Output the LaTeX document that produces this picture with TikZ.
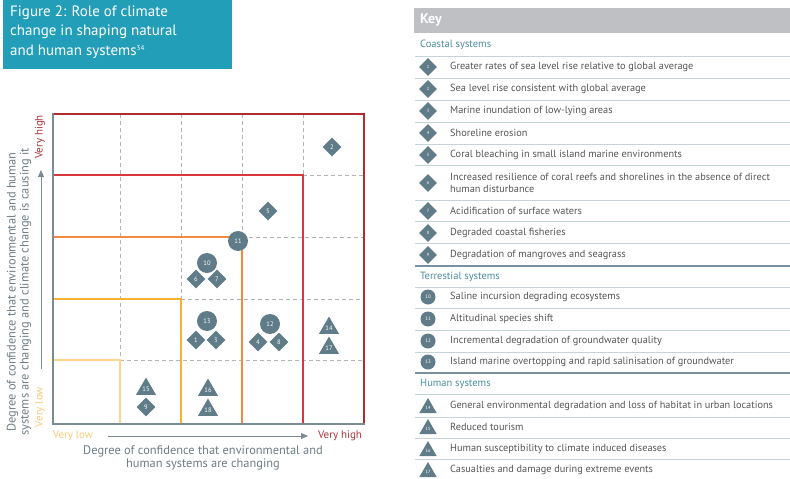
\documentclass[tikz,border=0pt]{standalone}
\usepackage{fontspec}
\setmainfont{PT Sans}
\usetikzlibrary{shapes.geometric,arrows.meta}

\definecolor{titleteal}{HTML}{229EB9}
\definecolor{markgray}{HTML}{5F7C88}
\definecolor{keybar}{HTML}{BEC0C3}
\definecolor{sepline}{HTML}{C5D3DA}
\definecolor{sepdark}{HTML}{7890A0}
\definecolor{secteal}{HTML}{4A8C9C}
\definecolor{keytext}{HTML}{555555}
\definecolor{axisgray}{HTML}{7A8B93}
\definecolor{labgray}{HTML}{6E7C84}
\definecolor{gridgray}{HTML}{B4B4B4}
\definecolor{redout}{HTML}{B22A2E}
\definecolor{redin}{HTML}{D7373D}
\definecolor{orangeln}{HTML}{F08A42}
\definecolor{yellowln}{HTML}{F9B131}
\definecolor{paleln}{HTML}{FDD48C}
\definecolor{hightext}{HTML}{A8353A}
\definecolor{lowtext}{HTML}{F9C87A}

\tikzset{
  dia/.style={diamond, aspect=1, fill=markgray, text=white, inner sep=0pt,
    minimum size=19pt, font=\fontsize{6.5}{7}\selectfont},
  circ/.style={circle, fill=markgray, text=white, inner sep=0pt,
    minimum size=20pt, font=\fontsize{6.5}{7}\selectfont},
  tri/.style={regular polygon, regular polygon sides=3, fill=markgray, text=white,
    inner sep=0pt, minimum size=23pt, font=\fontsize{6.5}{7}\selectfont},
  keydia/.style={dia, minimum size=18pt, font=\fontsize{4.5}{5}\selectfont},
  keycirc/.style={circ, minimum size=15pt, font=\fontsize{5}{5}\selectfont},
  keytri/.style={tri, minimum size=20pt, font=\fontsize{4.5}{5}\selectfont},
  keytxt/.style={anchor=west, text=keytext, inner sep=0pt,
    font=\fontsize{10.3}{12}\selectfont},
  sechead/.style={anchor=west, text=secteal, inner sep=0pt,
    font=\fontsize{10.5}{12}\selectfont},
  gridln/.style={gridgray, dash pattern=on 4pt off 3pt, line width=0.8pt},
  axlabel/.style={text=labgray, align=center, font=\fontsize{12.4}{13}\selectfont}
}

\begin{document}
\begin{tikzpicture}[x=1pt,y=-1pt]
  \useasboundingbox (0,0) rectangle (790,479);

  % title
  \fill[titleteal] (3,0) rectangle (232,69);
  \node[anchor=north west, text=white, align=left, inner sep=0pt,
    font=\fontsize{15}{19.5}\selectfont] (title) at (10,5.5)
    {Figure 2: Role of climate\\change in shaping natural\\and human systems\raisebox{0.6ex}{\fontsize{7}{7}\selectfont 34}};

  % grid
  \draw[gridln] (120,114) -- (120,360);
  \draw[gridln] (181,114) -- (181,299);
  \draw[gridln] (242,114) -- (242,237);
  \draw[gridln] (303,114) -- (303,175);
  \draw[gridln] (303,175) -- (364,175);
  \draw[gridln] (242,237) -- (364,237);
  \draw[gridln] (181,299) -- (364,299);
  \draw[gridln] (120,360) -- (364,360);

  % confidence zones
  \draw[paleln, line width=1.5pt] (53,360) -- (120,360) -- (120,424);
  \draw[yellowln, line width=1.5pt] (53,299) -- (181,299) -- (181,424);
  \draw[orangeln, line width=1.5pt] (53,237) -- (242,237) -- (242,424);
  \draw[redin, line width=1.5pt] (53,175) -- (303,175) -- (303,424);
  \draw[redout, line width=2pt] (53,114) -- (364,114) -- (364,424);
  \draw[axisgray, line width=1.5pt] (53,113) -- (53,424) -- (365,424);

  % axes
  \node[rotate=90, text=hightext, font=\fontsize{11}{12}\selectfont] (yhigh) at (40,137) {Very high};
  \node[rotate=90, text=lowtext, font=\fontsize{11}{12}\selectfont] (ylow) at (40,407) {Very low};
  \coordinate (ybot) at (41,369);
  \coordinate (ytop) at (41,170);
  \draw[axisgray, line width=1pt, -{Triangle[length=7pt,width=6pt]}] (ybot) -- (ytop);
  \node[axlabel, rotate=90] (ylab) at (19,292)
    {Degree of confidence that environmental and human\\systems are changing and climate change is causing it};

  \node[text=lowtext, font=\fontsize{11}{12}\selectfont] (xlow) at (73,436) {Very low};
  \node[text=hightext, font=\fontsize{11}{12}\selectfont] (xhigh) at (340,436) {Very high};
  \coordinate (xleft) at (108,436);
  \coordinate (xright) at (308,436);
  \draw[axisgray, line width=1pt, -{Triangle[length=7pt,width=6pt]}] (xleft) -- (xright);
  \node[axlabel] (xlab) at (203,458)
    {Degree of confidence that environmental and\\human systems are changing};

  % markers
  \node[dia] (m2) at (332,147) {2};
  \node[dia] (m5) at (268,211) {5};
  \node[circ] (m11) at (238,241) {11};
  \node[circ] (m10) at (207,263) {10};
  \node[dia] (m6) at (196,279) {6};
  \node[dia] (m7) at (217,279) {7};
  \node[circ] (m13) at (207,321) {13};
  \node[dia] (m1) at (196,340) {1};
  \node[dia] (m3) at (216,340) {3};
  \node[circ] (m12) at (270,324) {12};
  \node[dia] (m4) at (258,342) {4};
  \node[dia] (m8) at (279,342) {8};
  \node[tri] (m14) at (329,328) {14};
  \node[tri] (m17) at (329,348) {17};
  \node[tri] (m15) at (146,389) {15};
  \node[dia] (m9) at (146,407) {9};
  \node[tri] (m16) at (208,390) {16};
  \node[tri] (m18) at (208,410) {18};

  % key
  \fill[keybar] (414,8) rectangle (790,33);
  \node[anchor=west, text=white, inner sep=0pt, font=\fontsize{14}{16}\bfseries] (keyhead) at (420,20.5) {Key};
  \foreach \y in {56,78,100,122,144,165,200,221,243,287,308,330,352,394,417,438,459}
    \draw[sepline, line width=1pt] (415,\y) -- (790,\y);
  \draw[sepdark, line width=1.2pt] (415,266) -- (790,266);
  \draw[sepdark, line width=1.2pt] (415,373) -- (790,373);

  \node[sechead] (coast) at (420,45) {Coastal systems};
  \node[keydia] (k1) at (428,67) {1};
  \node[keytxt] (t1) at (450,67) {Greater rates of sea level rise relative to global average};
  \node[keydia] (k2) at (428,89) {2};
  \node[keytxt] (t2) at (450,89) {Sea level rise consistent with global average};
  \node[keydia] (k3) at (428,111) {3};
  \node[keytxt] (t3) at (450,111) {Marine inundation of low-lying areas};
  \node[keydia] (k4) at (428,133) {4};
  \node[keytxt] (t4) at (450,133) {Shoreline erosion};
  \node[keydia] (k5) at (428,155) {5};
  \node[keytxt] (t5) at (450,155) {Coral bleaching in small island marine environments};
  \node[keydia] (k6) at (428,183) {6};
  \node[keytxt, align=left] (t6) at (450,183) {Increased resilience of coral reefs and shorelines in the absence of direct\\human disturbance};
  \node[keydia] (k7) at (428,211) {7};
  \node[keytxt] (t7) at (450,211) {Acidification of surface waters};
  \node[keydia] (k8) at (428,233) {8};
  \node[keytxt] (t8) at (450,233) {Degraded coastal fisheries};
  \node[keydia] (k9) at (428,255) {9};
  \node[keytxt] (t9) at (450,255) {Degradation of mangroves and seagrass};

  \node[sechead] (terr) at (420,277) {Terrestial systems};
  \node[keycirc] (k10) at (428,297) {10};
  \node[keytxt] (t10) at (450,297) {Saline incursion degrading ecosystems};
  \node[keycirc] (k11) at (428,319) {11};
  \node[keytxt] (t11) at (450,319) {Altitudinal species shift};
  \node[keycirc] (k12) at (428,341) {12};
  \node[keytxt] (t12) at (450,341) {Incremental degradation of groundwater quality};
  \node[keycirc] (k13) at (428,362) {13};
  \node[keytxt] (t13) at (450,362) {Island marine overtopping and rapid salinisation of groundwater};

  \node[sechead] (human) at (420,384) {Human systems};
  \node[keytri] (k14) at (428,408) {14};
  \node[keytxt] (t14) at (450,406) {General environmental degradation and loss of habitat in urban locations};
  \node[keytri] (k15) at (428,429) {15};
  \node[keytxt] (t15) at (450,427) {Reduced tourism};
  \node[keytri] (k16) at (428,451) {16};
  \node[keytxt] (t16) at (450,449) {Human susceptibility to climate induced diseases};
  \node[keytri] (k17) at (428,472) {17};
  \node[keytxt] (t17) at (450,470) {Casualties and damage during extreme events};
\end{tikzpicture}
\end{document}
